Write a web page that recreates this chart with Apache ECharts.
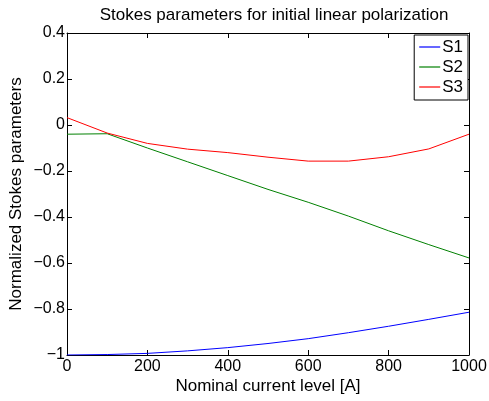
<!DOCTYPE html>
<html><head><meta charset="utf-8">
<script src="https://cdn.jsdelivr.net/npm/echarts@6/dist/echarts.min.js"></script>
<style>html,body{margin:0;padding:0;background:#fff}#c{width:489px;height:401px}</style>
</head><body><div id="c"></div>
<script>
const currents = [0, 100, 200, 300, 400, 500, 600, 700, 800, 900, 1000];
const s1 = [-1.0, -0.998, -0.993, -0.982, -0.968, -0.95, -0.929, -0.903, -0.875, -0.845, -0.814];
const s2 = [-0.04, -0.038, -0.10, -0.16, -0.22, -0.28, -0.336, -0.396, -0.46, -0.52, -0.578];
const s3 = [0.032, -0.035, -0.08, -0.105, -0.12, -0.14, -0.157, -0.157, -0.138, -0.104, -0.04];
const seriesNames = ['S1', 'S2', 'S3'];
const colors = ['#0000ff', '#008000', '#ff0000'];
const title = 'Stokes parameters for initial linear polarization';
const xName = 'Nominal current level [A]';
const yName = 'Normalized Stokes parameters';

const font = 'Liberation Sans, Arial, Helvetica, sans-serif';
const chart = echarts.init(document.getElementById('c'));
const mk = (vals) => currents.map((x, i) => [x, vals[i]]);
const fmt = v => String(v).replace('-', '\u2212');
const baseAxis = () => ({
  axisLine: {show: true, onZero: false, lineStyle: {color: '#000', width: 1}},
  axisTick: {show: true, inside: true, length: 5, lineStyle: {color: '#000', width: 1}},
  splitLine: {show: false}
});
chart.setOption({
  animation: false,
  title: {text: title, left: 269, top: 2, textAlign: 'center',
    textStyle: {fontFamily: font, fontSize: 17, fontWeight: 'normal', color: '#000'}},
  grid: {left: 67, right: 20, top: 33, bottom: 46, outerBoundsMode: 'none'},
  legend: {
    orient: 'vertical', right: 21, top: 35,
    data: seriesNames.map(n => ({name: n, icon: 'rect'})),
    borderColor: '#000', borderWidth: 1, padding: [2, 5, 3, 5], itemGap: 0,
    itemWidth: 21, itemHeight: 1.2, backgroundColor: '#fff',
    textStyle: {fontFamily: font, fontSize: 17, color: '#000', padding: [0, 0, 0, -3], lineHeight: 20}
  },
  xAxis: [
    Object.assign({type: 'value', min: 0, max: 1000, interval: 200, position: 'bottom',
      name: xName, nameLocation: 'middle', nameGap: 23, nameMoveOverlap: false,
      nameTextStyle: {fontFamily: font, fontSize: 17, color: '#000'},
      axisLabel: {fontFamily: font, fontSize: 16, color: '#000', margin: 4, formatter: fmt}}, baseAxis()),
    Object.assign({type: 'value', min: 0, max: 1000, interval: 200, position: 'top',
      axisLabel: {show: false}}, baseAxis())
  ],
  yAxis: [
    Object.assign({type: 'value', min: -1, max: 0.4, interval: 0.2, position: 'left',
      name: yName, nameLocation: 'middle', nameGap: 42, nameMoveOverlap: false,
      nameTextStyle: {fontFamily: font, fontSize: 17, color: '#000'},
      axisLabel: {fontFamily: font, fontSize: 16, color: '#000', margin: 2,
        formatter: v => fmt(Math.round(v * 10) / 10)}}, baseAxis()),
    Object.assign({type: 'value', min: -1, max: 0.4, interval: 0.2, position: 'right',
      axisLabel: {show: false}}, baseAxis())
  ],
  series: [s1, s2, s3].map((vals, i) => ({
    name: seriesNames[i], type: 'line', data: mk(vals), symbol: 'none',
    lineStyle: {color: colors[i], width: 1}, itemStyle: {color: colors[i]}
  }))
});
</script></body></html>
